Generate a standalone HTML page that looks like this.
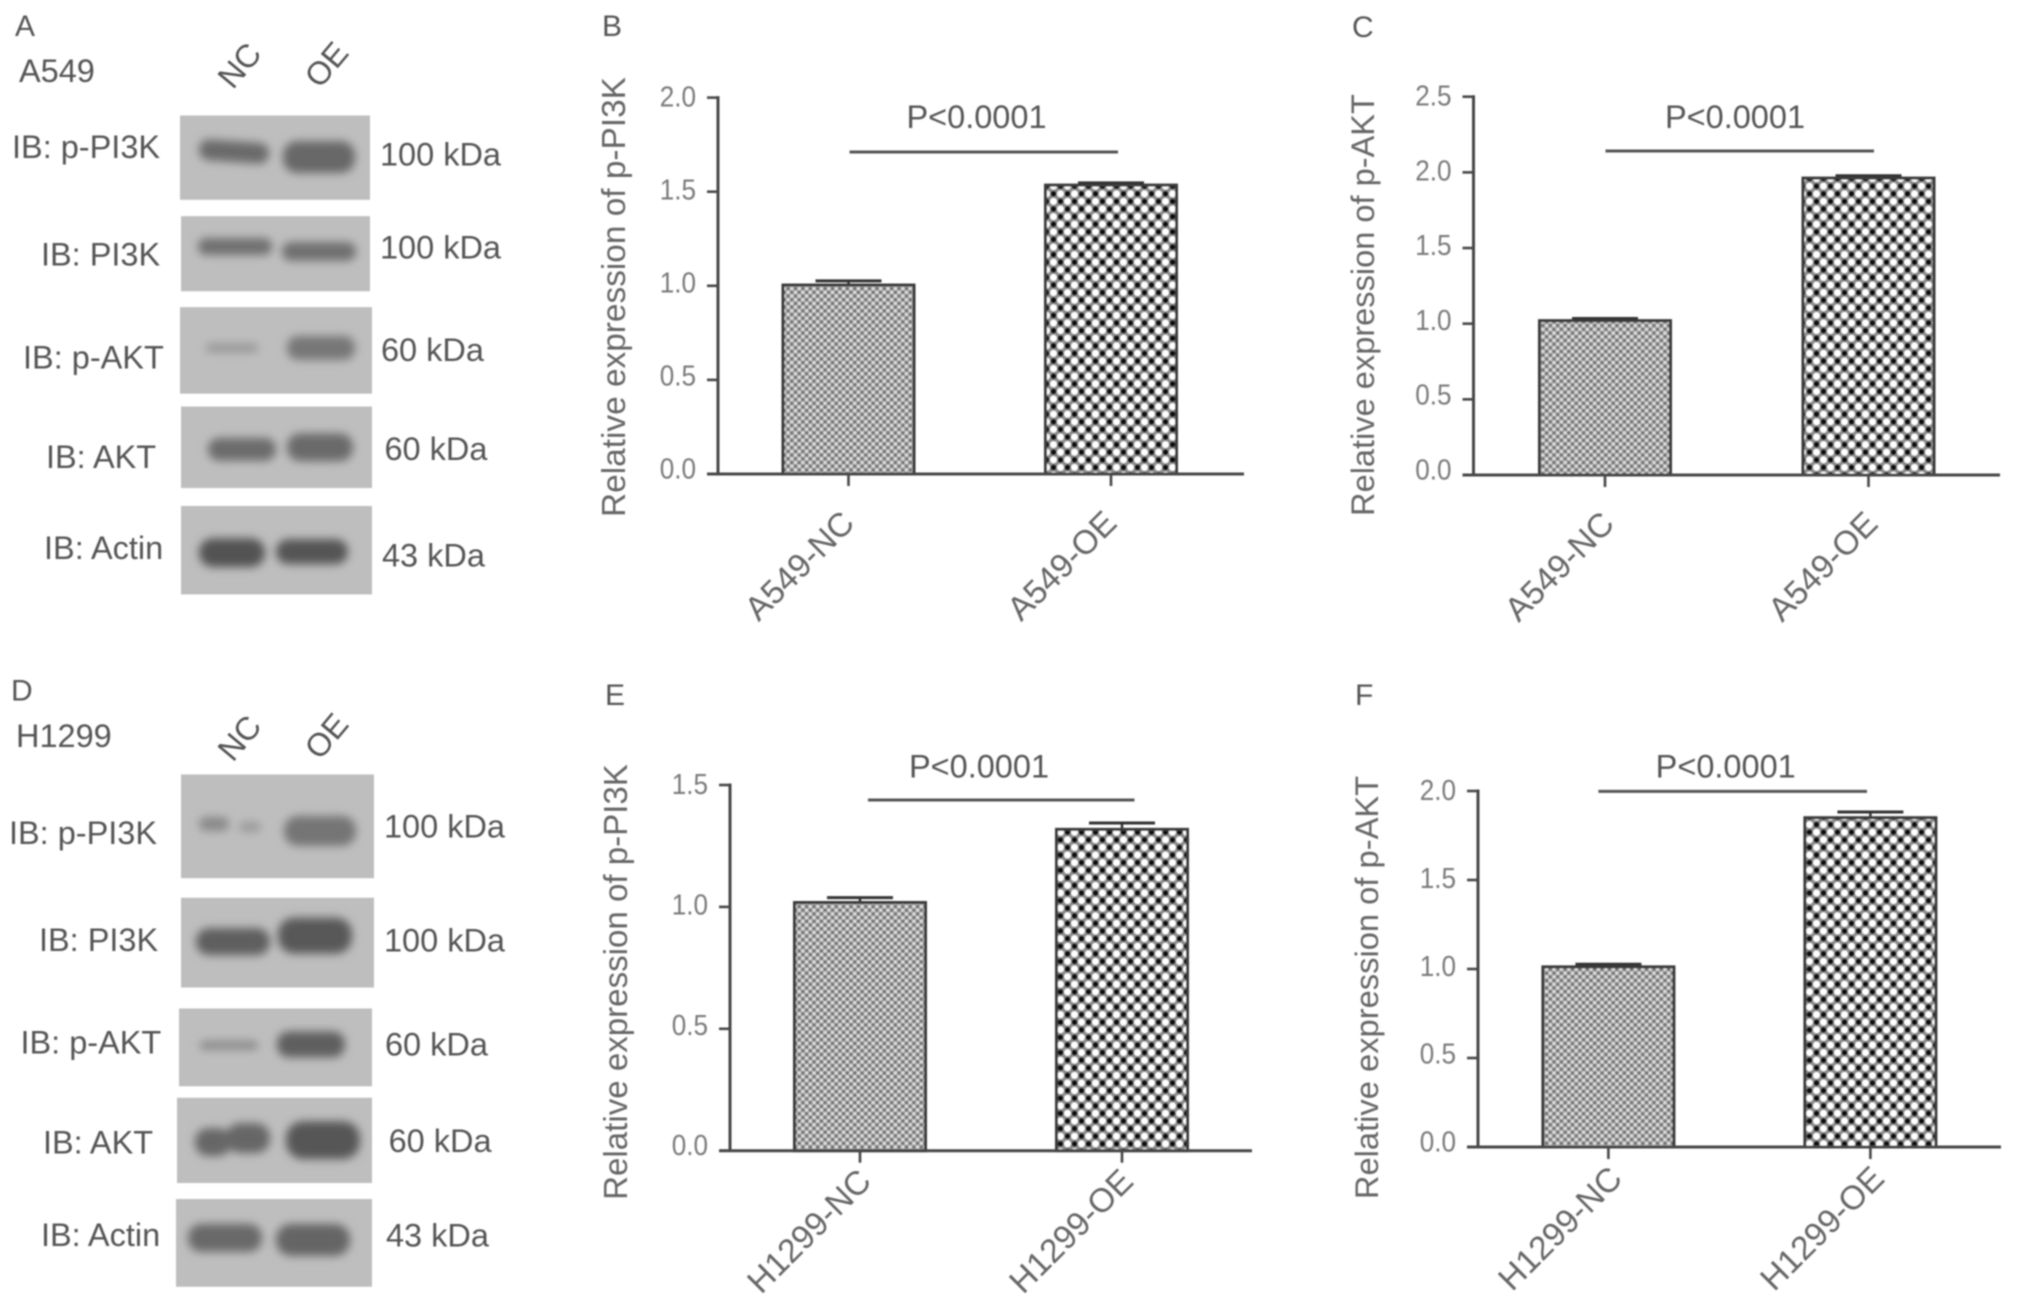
<!DOCTYPE html>
<html lang="en">
<head>
<meta charset="utf-8">
<title>PI3K and AKT expression in A549 and H1299 cells</title>
<style>
html,body{margin:0;padding:0;background:#fff;width:2031px;height:1302px;overflow:hidden}
svg{display:block;font-family:"Liberation Sans",sans-serif}
.lbl{font-size:32.5px;fill:#555}
.pl{font-size:30px;fill:#555}
.gel{fill:#bebebe}
</style>
</head>
<body>
<svg id="fig" xmlns="http://www.w3.org/2000/svg" width="2031" height="1302" viewBox="0 0 2031 1302">
<defs>
<filter id="soft" x="-2%" y="-2%" width="104%" height="104%"><feGaussianBlur stdDeviation="0.7"/></filter>
<filter id="bandblur" x="-30%" y="-60%" width="160%" height="220%"><feGaussianBlur stdDeviation="4.5"/></filter>
<pattern id="patNC" patternUnits="userSpaceOnUse" width="7.4" height="7.4">
<rect width="7.4" height="7.4" fill="#a8a8a8"/>
<circle cx="0" cy="0" r="1.5" fill="#e2e2e2"/><circle cx="7.4" cy="0" r="1.5" fill="#e2e2e2"/><circle cx="0" cy="7.4" r="1.5" fill="#e2e2e2"/><circle cx="7.4" cy="7.4" r="1.5" fill="#e2e2e2"/><circle cx="3.7" cy="3.7" r="1.5" fill="#e2e2e2"/>
<circle cx="3.7" cy="0" r="1.5" fill="#6a6a6a"/><circle cx="3.7" cy="7.4" r="1.5" fill="#6a6a6a"/><circle cx="0" cy="3.7" r="1.5" fill="#6a6a6a"/><circle cx="7.4" cy="3.7" r="1.5" fill="#6a6a6a"/>
</pattern>
<pattern id="patOE" patternUnits="userSpaceOnUse" width="14" height="15.2">
<rect width="14" height="15.2" fill="#8c8c8c"/>
<circle cx="3.5" cy="3.8" r="3.4" fill="#fff"/><circle cx="10.5" cy="11.4" r="3.4" fill="#fff"/>
<circle cx="10.5" cy="3.8" r="2.9" fill="#0c0c0c"/><circle cx="3.5" cy="11.4" r="2.9" fill="#0c0c0c"/>
</pattern>
</defs>
<g id="root" filter="url(#soft)">

<g transform="translate(-2,0) scale(1,0.994)">
<text class="pl" x="17" y="36">A</text>
<text class="lbl" x="21" y="82.5">A549</text>
<text class="lbl" text-anchor="middle" transform="translate(250,73) rotate(-50)">NC</text>
<text class="lbl" text-anchor="middle" transform="translate(337,72) rotate(-50)">OE</text>

<rect class="gel" x="182" y="116" width="190" height="85"/>
<rect class="gel" x="183" y="217.5" width="189" height="75.5"/>
<rect class="gel" x="182" y="309" width="192" height="87"/>
<rect class="gel" x="183" y="409" width="191" height="82"/>
<rect class="gel" x="183" y="509" width="191" height="89"/>

<g filter="url(#bandblur)">
<rect x="201" y="142" width="70" height="21" rx="10" transform="rotate(4 236 152.6)" fill="#6a6a6a"/>
<rect x="285" y="142" width="72" height="32" rx="14" fill="#686868"/>
<rect x="200" y="239.5" width="74" height="17" rx="8" fill="#707070"/>
<rect x="284" y="243.5" width="74" height="19" rx="9" fill="#707070"/>
<rect x="208" y="345.5" width="52" height="9" rx="4" fill="#979797"/>
<rect x="289" y="338" width="68" height="24" rx="11" fill="#777"/>
<rect x="210" y="440.5" width="68" height="23" rx="11" fill="#6c6c6c"/>
<rect x="289" y="436" width="66" height="28" rx="13" fill="#6a6a6a"/>
<rect x="201" y="541.5" width="66" height="29" rx="14" fill="#525252"/>
<rect x="278" y="542.5" width="72" height="25" rx="12" fill="#555"/>
</g>

<text class="lbl" x="14" y="159">IB: p-PI3K</text>
<text class="lbl" x="43" y="267">IB: PI3K</text>
<text class="lbl" x="25" y="370.5">IB: p-AKT</text>
<text class="lbl" x="48" y="471">IB: AKT</text>
<text class="lbl" x="46" y="562.5">IB: Actin</text>
<text class="lbl" x="382" y="166.5">100 kDa</text>
<text class="lbl" x="382" y="260">100 kDa</text>
<text class="lbl" x="383" y="363">60 kDa</text>
<text class="lbl" x="386.5" y="463">60 kDa</text>
<text class="lbl" x="384" y="570">43 kDa</text>
</g>

<g transform="translate(-2,0) scale(1,0.9975)">
<text class="pl" x="13" y="702.5">D</text>
<text class="lbl" x="18" y="749">H1299</text>
<text class="lbl" text-anchor="middle" transform="translate(250,747) rotate(-50)">NC</text>
<text class="lbl" text-anchor="middle" transform="translate(337,745) rotate(-50)">OE</text>

<rect class="gel" x="183" y="776.4" width="193" height="104"/>
<rect class="gel" x="183" y="900" width="193" height="90"/>
<rect class="gel" x="181" y="1011" width="193" height="78"/>
<rect class="gel" x="179" y="1100.5" width="195" height="85.5"/>
<rect class="gel" x="178" y="1202" width="196" height="88"/>

<g filter="url(#bandblur)">
<rect x="201" y="819" width="30" height="14" rx="7" fill="#888"/>
<rect x="241" y="824" width="22" height="10" rx="5" fill="#999"/>
<rect x="286" y="818" width="72" height="30" rx="14" fill="#757575"/>
<rect x="198" y="930.5" width="74" height="27" rx="13" fill="#5e5e5e"/>
<rect x="280" y="920" width="74" height="36" rx="16" fill="#585858"/>
<rect x="202" y="1043.5" width="58" height="9" rx="4" fill="#8a8a8a"/>
<rect x="279" y="1034" width="68" height="26" rx="12" fill="#5f5f5f"/>
<rect x="197" y="1131" width="36" height="28" rx="13" fill="#666"/>
<rect x="228" y="1126" width="44" height="30" rx="14" fill="#666"/>
<rect x="288" y="1124" width="74" height="38" rx="17" fill="#565656"/>
<rect x="190" y="1227" width="74" height="28" rx="13" fill="#696969"/>
<rect x="278" y="1227" width="74" height="32" rx="15" fill="#656565"/>
</g>

<text class="lbl" x="11" y="846">IB: p-PI3K</text>
<text class="lbl" x="41" y="953.5">IB: PI3K</text>
<text class="lbl" x="22.5" y="1056">IB: p-AKT</text>
<text class="lbl" x="45" y="1156.6">IB: AKT</text>
<text class="lbl" x="43" y="1249">IB: Actin</text>
<text class="lbl" x="386" y="839.4">100 kDa</text>
<text class="lbl" x="386" y="954">100 kDa</text>
<text class="lbl" x="387" y="1058">60 kDa</text>
<text class="lbl" x="390.6" y="1155">60 kDa</text>
<text class="lbl" x="388" y="1249.6">43 kDa</text>
</g>

<text class="pl" x="602" y="36">B</text>
<text class="pl" x="1352" y="37">C</text>
<text class="pl" x="605" y="705">E</text>
<text class="pl" x="1355" y="705">F</text>
<g id="charts"></g>
</g>
</svg>

<script>
// Panel B
const categoriesB = ['A549-NC', 'A549-OE'];
const valuesB = [1.004, 1.535];
const errorsB = [0.022, 0.012];
const ticksB = [0, 0.5, 1.0, 1.5, 2.0];
const tickLabelsB = ['0.0', '0.5', '1.0', '1.5', '2.0'];
// Panel C
const categoriesC = ['A549-NC', 'A549-OE'];
const valuesC = [1.02, 1.962];
const errorsC = [0.014, 0.016];
const ticksC = [0, 0.5, 1.0, 1.5, 2.0, 2.5];
const tickLabelsC = ['0.0', '0.5', '1.0', '1.5', '2.0', '2.5'];
// Panel E
const categoriesE = ['H1299-NC', 'H1299-OE'];
const valuesE = [1.018, 1.318];
const errorsE = [0.02, 0.026];
const ticksE = [0, 0.5, 1.0, 1.5];
const tickLabelsE = ['0.0', '0.5', '1.0', '1.5'];
// Panel F
const categoriesF = ['H1299-NC', 'H1299-OE'];
const valuesF = [1.012, 1.85];
const errorsF = [0.015, 0.032];
const ticksF = [0, 0.5, 1.0, 1.5, 2.0];
const tickLabelsF = ['0.0', '0.5', '1.0', '1.5', '2.0'];

const NS = 'http://www.w3.org/2000/svg';
const host = document.getElementById('charts');

function make(tag, attrs, parent) {
  const el = document.createElementNS(NS, tag);
  for (const k in attrs) el.setAttribute(k, attrs[k]);
  parent.appendChild(el);
  return el;
}

function drawChart(c) {
  const g = make('g', {}, host);
  
  

  const domainMax = c.ticks[c.ticks.length - 1];
  const yScale = v => c.y0 - (v / domainMax) * (c.y0 - c.yTop);
  const xScale = i => c.x0 + i * c.step;
  const axisColor = '#464646';

  const yAxis = make('line', {x1: c.ax, x2: c.ax, y1: yScale(domainMax) - 1.5, y2: c.y0, stroke: axisColor, 'stroke-width': 3}, g);
  
  

  c.ticks.forEach((t, i) => {
    const tick = make('line', {x1: c.ax - 11, x2: c.ax, y1: yScale(t), y2: yScale(t), stroke: axisColor, 'stroke-width': 2.6}, g);
    
    
    const baseline = yScale(t) + 4.5 + 4.5 * t / domainMax;
    const label = make('text', {'text-anchor': 'end', 'font-size': 29, fill: '#7a7a7a', transform: 'translate(' + (c.ax - 22) + ',' + baseline + ') scale(0.9,1)'}, g);
    label.textContent = c.tickLabels[i];
    
    
  });

  c.values.forEach((v, i) => {
    const cx = xScale(i);
    const top = yScale(v);
    const errTop = yScale(v + c.errors[i]);
    const stem = make('line', {x1: cx, x2: cx, y1: errTop, y2: top, stroke: '#333', 'stroke-width': 2.5}, g);
    
    
    const cap = make('line', {x1: cx - 33, x2: cx + 33, y1: errTop, y2: errTop, stroke: '#333', 'stroke-width': 3}, g);
    
    
    const bar = make('rect', {x: cx - c.barW / 2, y: top, width: c.barW, height: c.y0 - top, fill: i === 0 ? 'url(#patNC)' : 'url(#patOE)', stroke: '#3a3a3a', 'stroke-width': 3}, g);
    
    
    const xt = make('line', {x1: cx, x2: cx, y1: c.y0, y2: c.y0 + 12, stroke: axisColor, 'stroke-width': 2.6}, g);
    
    
    const xl = make('text', {'text-anchor': 'end', 'font-size': 33.5, fill: '#666', transform: 'translate(' + (cx + c.labelDx) + ',' + (c.y0 + c.labelDy) + ') rotate(-45)'}, g);
    xl.textContent = c.categories[i];
    
    
  });

  const xAxis = make('line', {x1: c.ax - 11, x2: c.xEnd, y1: c.y0, y2: c.y0, stroke: axisColor, 'stroke-width': 3}, g);
  
  

  const title = make('text', {'text-anchor': 'middle', 'font-size': c.titleSize, fill: '#666', transform: 'translate(' + c.titleX + ',' + c.titleY + ') rotate(-90)'}, g);
  title.textContent = c.title;
  
  

  const sig = make('line', {x1: c.sigX0, x2: c.sigX1, y1: c.sigY, y2: c.sigY, stroke: '#555', 'stroke-width': 3}, g);
  
  
  const p = make('text', {x: c.pX, y: c.pY, 'text-anchor': 'middle', 'font-size': 32.5, fill: '#555'}, g);
  p.textContent = 'P<0.0001';
  
  
}

drawChart({id: 'b', categories: categoriesB, values: valuesB, errors: errorsB, ticks: ticksB, tickLabels: tickLabelsB,
  title: 'Relative expression of p-PI3K', titleSize: 33.4, ax: 718, y0: 474, yTop: 97.6, x0: 848.5, step: 262.5, barW: 131, xEnd: 1244,
  titleX: 625, titleY: 297, sigX0: 849.5, sigX1: 1118, sigY: 152, pX: 976.5, pY: 128, labelDx: 7.6, labelDy: 51});
drawChart({id: 'c', categories: categoriesC, values: valuesC, errors: errorsC, ticks: ticksC, tickLabels: tickLabelsC,
  title: 'Relative expression of p-AKT', titleSize: 32.6, ax: 1473.5, y0: 475, yTop: 96.7, x0: 1605, step: 263.5, barW: 131, xEnd: 2000,
  titleX: 1374, titleY: 305, sigX0: 1605.5, sigX1: 1874, sigY: 151, pX: 1735, pY: 128, labelDx: 11, labelDy: 50.7});
drawChart({id: 'e', categories: categoriesE, values: valuesE, errors: errorsE, ticks: ticksE, tickLabels: tickLabelsE,
  title: 'Relative expression of p-PI3K', titleSize: 33.1, ax: 730, y0: 1150.7, yTop: 785, x0: 860, step: 262, barW: 131, xEnd: 1252,
  titleX: 627, titleY: 982, sigX0: 868, sigX1: 1134.5, sigY: 800, pX: 979, pY: 777.6, labelDx: 13, labelDy: 32.5});
drawChart({id: 'f', categories: categoriesF, values: valuesF, errors: errorsF, ticks: ticksF, tickLabels: tickLabelsF,
  title: 'Relative expression of p-AKT', titleSize: 32.7, ax: 1478, y0: 1147, yTop: 791, x0: 1608.4, step: 262, barW: 131, xEnd: 2001,
  titleX: 1378, titleY: 987.5, sigX0: 1598.4, sigX1: 1867, sigY: 791.4, pX: 1725.7, pY: 777.6, labelDx: 15.6, labelDy: 33.5});
</script>
</body>
</html>
